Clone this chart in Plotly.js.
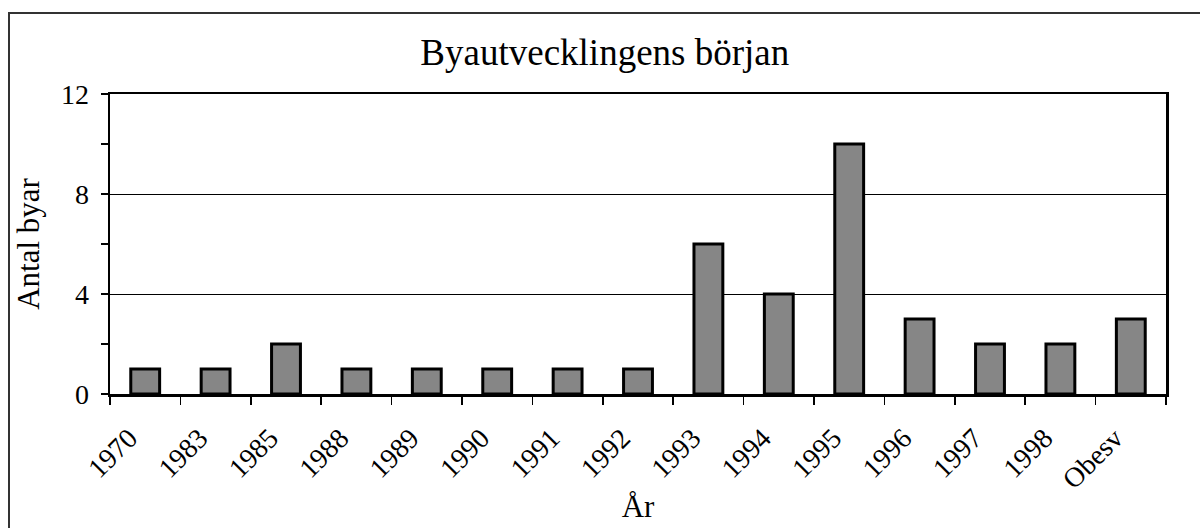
<!DOCTYPE html>
<html>
<head>
<meta charset="utf-8">
<script src="https://cdn.plot.ly/plotly-3.0.1.min.js"></script>
<style>html,body{margin:0;padding:0;background:#fff;}#chart{width:1200px;height:528px;}</style>
</head>
<body>
<div id="chart"></div>
<script>
const categories = ["1970","1983","1985","1988","1989","1990","1991","1992","1993","1994","1995","1996","1997","1998","Obesv"];
const values = [1,1,2,1,1,1,1,1,6,4,10,3,2,2,3];
const chartTitle = "Byautvecklingens början";
const xTitle = "År";
const yTitle = "Antal byar";

const W = 1200, H = 528;
const L = 110, R = 34, T = 94, B = 134;
const pw = W - L - R, ph = H - T - B;
const px = v => (v - L) / pw;
const py = v => (H - B - v) / ph;

const font = "'Liberation Serif', 'Times New Roman', serif";

const trace = {
  type: 'bar',
  x: categories,
  y: values,
  marker: {
    color: '#8a8a8a',
    line: {color: '#000', width: 3},
    pattern: {shape: '.', fgcolor: '#5a5a5a', bgcolor: '#a8a8a8', size: 2, solidity: 0.5}
  },
  hoverinfo: 'x+y'
};

const layout = {
  width: W, height: H,
  margin: {l: L, r: R, t: T, b: B, pad: 0},
  paper_bgcolor: '#fff', plot_bgcolor: '#fff',
  bargap: 0.59,
  showlegend: false,
  font: {family: font, color: '#000', size: 27},
  title: {text: chartTitle, font: {family: font, size: 37, color: '#000'}, x: 0.504, xref: 'container', y: 1 - 52/528, yref: 'container', xanchor: 'center', yanchor: 'middle'},
  xaxis: {
    type: 'category',
    tickangle: -45,
    ticks: 'outside', ticklen: 8, tickwidth: 1.5, tickcolor: '#000',
    tickson: 'boundaries',
    ticklabelstandoff: 14,
    ticklabelshift: -16,
    showline: true, linewidth: 2.5, linecolor: '#000', mirror: true,
    showgrid: false, zeroline: false,
    tickfont: {family: font, size: 28, color: '#000'},
    title: {text: xTitle, font: {family: font, size: 31, color: '#000'}, standoff: 2}
  },
  yaxis: {
    range: [0, 12], dtick: 4, tick0: 0,
    ticks: 'outside', ticklen: 7, tickwidth: 1.5, tickcolor: '#000',
    minor: {dtick: 2, ticks: 'outside', ticklen: 7, tickwidth: 1.5, tickcolor: '#000', showgrid: false},
    showline: true, linewidth: 2.5, linecolor: '#000', mirror: true,
    showgrid: true, gridcolor: '#000', gridwidth: 1,
    zeroline: false,
    ticklabelstandoff: 6,
    tickfont: {family: font, size: 28, color: '#000'},
    title: {text: yTitle, font: {family: font, size: 31, color: '#000'}, standoff: 12}
  },
  shapes: [{
    type: 'rect', xref: 'paper', yref: 'paper', layer: 'below',
    x0: px(9), x1: px(1215), y0: py(545), y1: py(13),
    line: {color: '#333', width: 2}, fillcolor: 'rgba(0,0,0,0)'
  }]
};

Plotly.newPlot('chart', [trace], layout, {displayModeBar: false, staticPlot: true});
</script>
</body>
</html>
